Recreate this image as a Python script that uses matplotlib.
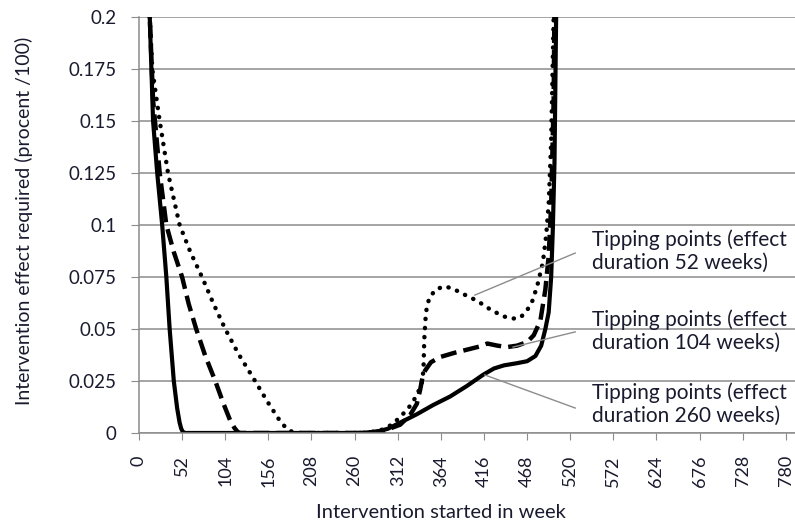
import numpy as np
import matplotlib.pyplot as plt

# effect duration 260 weeks (solid)
solid_w = [10, 13, 17, 22, 28, 33, 37, 42, 46, 49, 51, 53, 56, 150, 265, 285, 300, 315, 335, 355,
           375, 395, 415, 428, 440, 455, 468, 478, 485, 490, 494, 497, 499, 501, 503, 505]
solid_v = [0.24, 0.2, 0.15, 0.125, 0.1, 0.075, 0.05, 0.025, 0.012, 0.005, 0.002, 0.0005, 0, 0, 0,
           0.0005, 0.002, 0.005, 0.009, 0.0135, 0.0175, 0.0225, 0.028, 0.031, 0.0325, 0.0335,
           0.0345, 0.037, 0.042, 0.05, 0.058, 0.075, 0.098, 0.13, 0.2, 0.3]

# effect duration 104 weeks (dashed)
dash_w = [10, 13, 17, 25, 33, 42, 52, 60, 69, 80, 92, 102, 110, 115, 119, 122, 130, 270, 295, 315,
          327, 335, 339, 342, 345, 352, 363, 380, 395, 410, 420, 432, 444, 456, 468, 476, 484, 490,
          494, 497, 500, 503]
dash_v = [0.24, 0.2, 0.16, 0.125, 0.1, 0.087, 0.075, 0.062, 0.05, 0.037, 0.025, 0.014, 0.006,
          0.0025, 0.0005, 0, 0, 0, 0.001, 0.004, 0.0087, 0.014, 0.0207, 0.027, 0.030, 0.034, 0.0365,
          0.0385, 0.040, 0.0415, 0.043, 0.042, 0.0413, 0.042, 0.0437, 0.047, 0.054, 0.069, 0.085,
          0.11, 0.16, 0.3]

# effect duration 52 weeks (dotted)
dot_w = [10, 13, 16, 25, 35, 49, 62, 76, 90, 104, 120, 140, 155, 168, 176, 182, 190, 270, 290, 305,
         315, 325, 335, 341, 343, 344, 346, 350, 358, 368, 378, 390, 408, 425, 440, 451, 460, 468,
         475, 481, 487, 491, 494, 497, 500, 503]
dot_v = [0.24, 0.2, 0.175, 0.15, 0.125, 0.1, 0.087, 0.075, 0.062, 0.05, 0.038, 0.025, 0.015, 0.007,
         0.003, 0.001, 0, 0, 0.001, 0.004, 0.0077, 0.012, 0.018, 0.024, 0.03, 0.045, 0.058, 0.065,
         0.069, 0.0705, 0.0695, 0.067, 0.0635, 0.059, 0.056, 0.055, 0.0555, 0.059, 0.064, 0.072,
         0.082, 0.095, 0.11, 0.14, 0.2, 0.3]

x_ticks = list(range(0, 781, 52))
y_ticks = [0, 0.025, 0.05, 0.075, 0.1, 0.125, 0.15, 0.175, 0.2]
y_labels = ['0', '0.025', '0.05', '0.075', '0.1', '0.125', '0.15', '0.175', '0.2']

notes = ['Tipping points (effect\nduration 52 weeks)',
         'Tipping points (effect\nduration 104 weeks)',
         'Tipping points (effect\nduration 260 weeks)']
note_pts = [(405, 0.0663), (451, 0.0413), (417, 0.0279)]
note_ends = [(526, 0.0865), (526, 0.0486), (526, 0.012)]
note_txt = [(546, 0.0875), (546, 0.049), (546, 0.0139)]

plt.rcParams['font.family'] = ['Lato', 'DejaVu Sans']
txt = '#1a1a2e'
grid = '#8c8c8c'

fig = plt.figure(figsize=(7.95, 5.27), dpi=100)
ax = fig.add_axes([0.1748, 0.1784, 0.8252, 0.7894])

ax.plot(dot_w, dot_v, color='black', lw=3.2, linestyle=(0, (0.05, 2.0)),
        dash_capstyle='round', solid_capstyle='round')
ax.plot(dash_w, dash_v, color='black', lw=3.2, linestyle=(0, (3.6, 1.6)))
ax.plot(solid_w, solid_v, color='black', lw=3.0)

ax.set_xlim(0, 791)
ax.set_ylim(0, 0.2)
ax.set_yticks(y_ticks)
ax.set_yticklabels(y_labels)
ax.set_xticks(x_ticks)
ax.set_xticklabels([str(t) for t in x_ticks], rotation=90)
ax.yaxis.grid(True, color=grid, lw=1.1)
ax.set_axisbelow(True)
for s in ['top', 'right']:
    ax.spines[s].set_visible(False)
for s in ['left', 'bottom']:
    ax.spines[s].set_color(grid)
    ax.spines[s].set_linewidth(1.1)
ax.tick_params(axis='x', length=5, color=grid, labelsize=13, labelcolor=txt, pad=11)
ax.tick_params(axis='y', length=6, color=grid, labelsize=13.5, labelcolor=txt, pad=10)

ax.set_xlabel('Intervention started in week', fontsize=14.5, color=txt)
ax.set_ylabel('Intervention effect required (procent /100)', fontsize=14, color=txt)
ax.xaxis.set_label_coords(0.46, -0.192)
ax.xaxis.label.set_va('center')
ax.yaxis.set_label_coords(-0.175, 0.51)
ax.yaxis.label.set_va('center')

for note, p, e, t in zip(notes, note_pts, note_ends, note_txt):
    ax.plot([p[0], e[0]], [p[1], e[1]], color='#8c8c8c', lw=1.0, clip_on=False)
    ax.text(t[0], t[1], note, fontsize=15, color=txt, va='center', ha='left',
            linespacing=1.15, clip_on=False)

fig.savefig('out.png', dpi=100)
